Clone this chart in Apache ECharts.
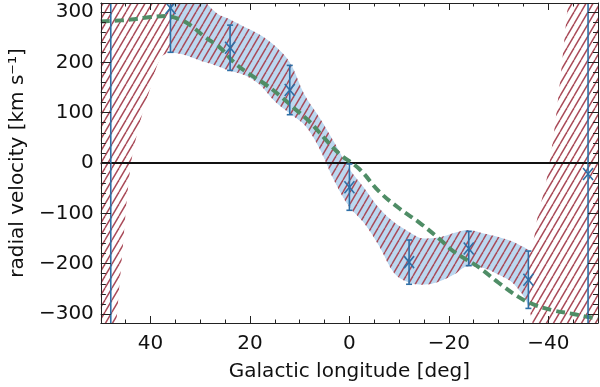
<!DOCTYPE html>
<html>
<head>
<meta charset="utf-8">
<script src="https://cdn.jsdelivr.net/npm/echarts@6/dist/echarts.min.js"></script>
<style>html,body{margin:0;padding:0;background:#fff}#c{width:600px;height:387px}</style>
</head>
<body>
<div id="c"></div>
<script>
// ---------- data ----------
// measurement points: longitude [deg], radial velocity, error
const ptL = [48, 36, 24, 12, 0, -12, -24, -36, -48];
const ptV = [400, 308, 229, 145, -48, -197, -170, -232, -22];
const ptE = [900, 88, 45, 49, 46, 44, 34, 57, 900];

// hatched model band: longitude, lower, upper
const bandL  = [50, 48, 46, 44, 42, 40, 38, 36, 33, 30, 27, 24, 21, 18, 15, 12, 9, 6, 3, 0, -3, -6, -9, -12, -15, -18, -21, -24, -27, -30, -33, -36, -38, -40, -42, -44, -46, -50];
const bandLo = [-500, -420, -215, -5, 85, 150, 208, 219, 214, 203, 194, 183, 174, 155, 122, 98, 75, 28, -37, -88, -120, -166, -219, -238, -242, -236, -222, -205, -209, -222, -240, -285, -400, -500, -500, -500, -500, -500];
const bandHi = [500, 500, 500, 500, 500, 500, 500, 500, 500, 340, 300, 285, 270, 255, 233, 200, 135, 90, 40, -12, -50, -90, -118, -137, -150, -148, -139, -133, -140, -147, -157, -172, -100, -15, 130, 320, 500, 500];

// light-blue band spans longitudes 36 .. -36 (same boundaries)
const blueFrom = 36, blueTo = -36;

// green dashed model curve
const modelL = [50, 44, 40, 37, 34, 32, 29, 26, 23, 20, 17, 14, 11, 8, 5, 2, -2, -6, -10, -14, -18, -21, -26, -30, -34, -37, -41, -45, -48, -50];
const modelV = [281, 285, 290, 292, 285, 274, 250, 229, 198, 176, 157, 134, 108, 82, 49, 18, -12, -57, -90, -118, -150, -176, -207, -238, -266, -281, -293, -300, -306, -309];

// axis ticks
const xMajor = [40, 20, 0, -20, -40];
const xMinor = [];
for (let v = -50; v <= 50; v += 5) xMinor.push(v);
const yMajor = [-300, -200, -100, 0, 100, 200, 300];
const yMinor = [];
for (let v = -300; v <= 300; v += 20) yMinor.push(v);

// ---------- styling ----------
const FONT = 'DejaVu Sans';
const AX = '#222';
const BLUE = '#2e6fa6';
const LIGHTBLUE = '#bcd8f0';
const RED = '#a94a58';
const GREEN = '#4f8d66';

function makeHatch(color) {
  const w = 7, h = 12;
  const c = document.createElement('canvas');
  c.width = w; c.height = h;
  const ctx = c.getContext('2d');
  ctx.strokeStyle = color;
  ctx.lineWidth = 1.5;
  for (let k = -1; k <= 1; k++) {
    ctx.beginPath();
    ctx.moveTo(k * w, h);
    ctx.lineTo(k * w + w, 0);
    ctx.stroke();
  }
  return c;
}

const minus = s => String(s).replace('-', '\u2212');
function zip(a, b) { return a.map((v, i) => [v, b[i]]); }

const blueIdx = bandL.map((l, i) => i).filter(i => bandL[i] <= blueFrom && bandL[i] >= blueTo);
const blueL = blueIdx.map(i => bandL[i]);
const blueLo = blueIdx.map(i => bandLo[i]);
const blueHi = blueIdx.map(i => bandHi[i]);

const xBase = { type: 'value', min: -50, max: 50, inverse: true, gridIndex: 0, z: 20, splitLine: { show: false } };
const yBase = { type: 'value', min: -318, max: 318, gridIndex: 0, z: 20, splitLine: { show: false } };

// band = area under upper boundary, then area under lower boundary painted white
function areaSeries(name, xs, ys, fill, z) {
  return {
    type: 'line', name: name, data: zip(xs, ys), smooth: 0.35, symbol: 'none', silent: true,
    lineStyle: { width: 0, opacity: 0 },
    areaStyle: { color: fill, opacity: 1, origin: 'start' }, z: z
  };
}

const chart = echarts.init(document.getElementById('c'), null, { renderer: 'canvas' });
chart.setOption({
  animation: false,
  backgroundColor: '#fff',
  grid: { left: 97, right: 2, top: 3, bottom: 60, containLabel: false },
  xAxis: [
    Object.assign({}, xBase, {
      position: 'bottom',
      axisLine: { show: true, onZero: false, lineStyle: { color: AX, width: 1 } },
      axisTick: { show: true, inside: true, length: 7, customValues: xMajor, lineStyle: { color: AX } },
      axisLabel: { show: true, customValues: xMajor, formatter: minus, margin: 11, fontSize: 20, fontFamily: FONT, color: '#111' },
      name: 'Galactic longitude [deg]', nameLocation: 'middle', nameGap: 39,
      nameTextStyle: { fontSize: 20, fontFamily: FONT, color: '#111' }
    }),
    Object.assign({}, xBase, {
      position: 'bottom',
      axisLine: { show: false, onZero: false },
      axisTick: { show: true, inside: true, length: 3.5, customValues: xMinor, lineStyle: { color: AX } },
      axisLabel: { show: false }
    }),
    Object.assign({}, xBase, {
      position: 'top',
      axisLine: { show: true, onZero: false, lineStyle: { color: AX, width: 1 } },
      axisTick: { show: true, inside: true, length: 7, customValues: xMajor, lineStyle: { color: AX } },
      axisLabel: { show: false }
    }),
    Object.assign({}, xBase, {
      position: 'top',
      axisLine: { show: false, onZero: false },
      axisTick: { show: true, inside: true, length: 3.5, customValues: xMinor, lineStyle: { color: AX } },
      axisLabel: { show: false }
    })
  ],
  yAxis: [
    Object.assign({}, yBase, {
      position: 'left',
      axisLine: { show: true, onZero: false, lineStyle: { color: AX, width: 1 } },
      axisTick: { show: true, inside: true, length: 10, customValues: yMajor, lineStyle: { color: AX } },
      axisLabel: { show: true, customValues: yMajor, formatter: minus, margin: 7, fontSize: 20, fontFamily: FONT, color: '#111' },
      name: 'radial velocity [km s\u207B\u00B9]', nameLocation: 'middle', nameGap: 68,
      nameTextStyle: { fontSize: 20, fontFamily: FONT, color: '#111' }
    }),
    Object.assign({}, yBase, {
      position: 'left',
      axisLine: { show: false, onZero: false },
      axisTick: { show: true, inside: true, length: 5, customValues: yMinor, lineStyle: { color: AX } },
      axisLabel: { show: false }
    }),
    Object.assign({}, yBase, {
      position: 'right',
      axisLine: { show: true, onZero: false, lineStyle: { color: AX, width: 1 } },
      axisTick: { show: true, inside: true, length: 10, customValues: yMajor, lineStyle: { color: AX } },
      axisLabel: { show: false }
    }),
    Object.assign({}, yBase, {
      position: 'right',
      axisLine: { show: false, onZero: false },
      axisTick: { show: true, inside: true, length: 5, customValues: yMinor, lineStyle: { color: AX } },
      axisLabel: { show: false }
    })
  ],
  series: [
    areaSeries('blueHi', blueL, blueHi, LIGHTBLUE, 1),
    areaSeries('blueLo', blueL, blueLo, '#ffffff', 2),
    areaSeries('hatchHi', bandL, bandHi, { image: makeHatch(RED), repeat: 'repeat' }, 3),
    areaSeries('hatchLo', bandL, bandLo, '#ffffff', 4),
    {
      type: 'line', name: 'model', data: zip(modelL, modelV), smooth: 0.4, symbol: 'none',
      lineStyle: { color: GREEN, width: 4, type: [9, 5] }, z: 6, silent: true,
      markLine: {
        silent: true, symbol: 'none', label: { show: false },
        lineStyle: { color: '#111', width: 2, type: 'solid' },
        data: [{ yAxis: 0 }]
      }
    },
    {
      type: 'custom', name: 'points', clip: true, z: 8, silent: true,
      data: ptL.map((l, i) => [l, ptV[i], ptE[i]]),
      renderItem: function (params, api) {
        const l = api.value(0), v = api.value(1), e = api.value(2);
        const t = api.coord([l, v + e]);
        const b = api.coord([l, v - e]);
        const c = api.coord([l, v]);
        const st = { stroke: BLUE, lineWidth: 1.6, fill: null };
        return {
          type: 'group',
          children: [
            { type: 'line', shape: { x1: t[0], y1: t[1], x2: b[0], y2: b[1] }, style: st },
            { type: 'line', shape: { x1: t[0] - 3, y1: t[1], x2: t[0] + 3, y2: t[1] }, style: st },
            { type: 'line', shape: { x1: b[0] - 3, y1: b[1], x2: b[0] + 3, y2: b[1] }, style: st },
            { type: 'line', shape: { x1: c[0] - 5, y1: c[1] - 6, x2: c[0] + 5, y2: c[1] + 6 }, style: st },
            { type: 'line', shape: { x1: c[0] - 5, y1: c[1] + 6, x2: c[0] + 5, y2: c[1] - 6 }, style: st }
          ]
        };
      }
    }
  ]
});
</script>
</body>
</html>
